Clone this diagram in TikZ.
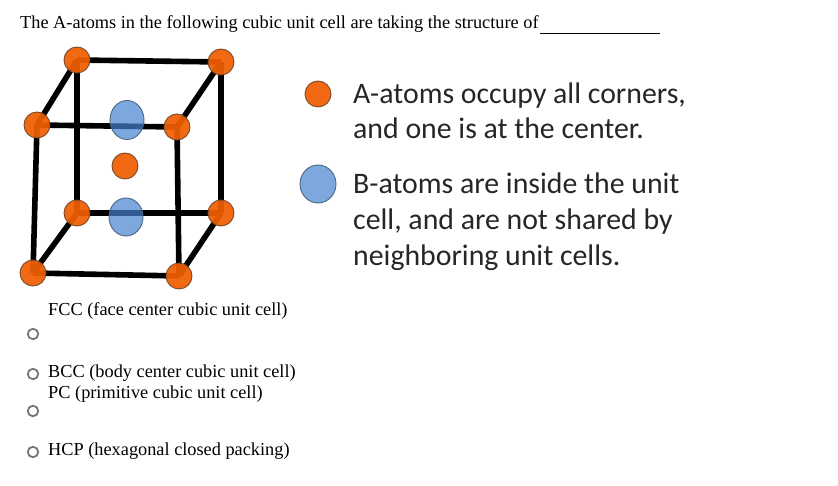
\documentclass[tikz,border=0pt]{standalone}
\usepackage{fontspec}
\usepackage{xcolor}
\setmainfont{Liberation Serif}
\newfontfamily\legendfont{Carlito}
\usetikzlibrary{backgrounds,shapes.geometric}
\definecolor{atom_orange}{HTML}{F05E00}
\definecolor{atom_orange_dk}{HTML}{7A4A2A}
\definecolor{atom_blue}{HTML}{4583D0}
\definecolor{atom_blue_dk}{HTML}{4A6684}
\definecolor{radio_gray}{HTML}{767676}
\tikzset{
    atomA/.style={circle,draw=atom_orange_dk,line width=0.9,fill=atom_orange,fill opacity=0.93,inner sep=0,minimum size=26},
    atomB/.style={ellipse,draw=atom_blue_dk,line width=0.9,fill=atom_blue,fill opacity=0.7,inner sep=0,minimum width=#1},
    edge/.style={line width=5.6,black},
    radiobtn/.style={circle,draw=radio_gray,line width=1.8,inner sep=0,minimum size=10.5},
    choice/.style={anchor=base west,inner sep=0,font=\fontsize{18.3}{22}\selectfont},
    legend/.style={anchor=base west,inner sep=0,text=black!85,font=\legendfont\fontsize{29.8}{36}\selectfont}
}
\begin{document}
\begin{tikzpicture}[x=1pt,y=-1pt]
    \useasboundingbox (0,0) rectangle (838,486);

    \node[choice] (question) at (20,28.5) {The A-atoms in the following cubic unit cell are taking the structure of};
    \coordinate (blankl) at (540,34);
    \coordinate (blankr) at (660,34);
    \draw[line width=1] (blankl) -- (blankr);

    \node[atomB=34,minimum height=39] (bluetop) at (127,120) {};
    \node[atomB=34,minimum height=38] (bluebot) at (126,217) {};
    \node[atomA] (center) at (125,166) {};

    \node[atomA] (tbl) at (77,60) {};
    \node[atomA] (tbr) at (221,62) {};
    \node[atomA] (tfl) at (37,125) {};
    \node[atomA] (tfr) at (177,127) {};
    \node[atomA] (bbl) at (77,213) {};
    \node[atomA] (bbr) at (221,213) {};
    \node[atomA] (bfl) at (33,273) {};
    \node[atomA] (bfr) at (179,276) {};

    \begin{scope}[on background layer]
        \draw[edge] (tbl.center) -- (tbr.center);
        \draw[edge] (tfl.center) -- (tfr.center);
        \draw[edge] (tbl.center) -- (tfl.center);
        \draw[edge] (tbr.center) -- (tfr.center);
        \draw[edge] (bbl.center) -- (bbr.center);
        \draw[edge] (bfl.center) -- (bfr.center);
        \draw[edge] (bbl.center) -- (bfl.center);
        \draw[edge] (bbr.center) -- (bfr.center);
        \draw[edge] (tbl.center) -- (bbl.center);
        \draw[edge] (tbr.center) -- (bbr.center);
        \draw[edge] (tfl.center) -- (bfl.center);
        \draw[edge] (tfr.center) -- (bfr.center);
    \end{scope}

    \node[atomA] (keyA) at (318,94) {};
    \node[atomB=36,minimum height=38] (keyB) at (318,184) {};

    \node[legend] (textA1) at (353,103.5) {A-atoms occupy all corners,};
    \node[legend] (textA2) at (353,138.5) {and one is at the center.};
    \node[legend] (textB1) at (353,194) {B-atoms are inside the unit};
    \node[legend] (textB2) at (353,230) {cell, and are not shared by};
    \node[legend] (textB3) at (353,266) {neighboring unit cells.};

    \node[choice] (fcc) at (48,316) {FCC (face center cubic unit cell)};
    \node[radiobtn] (radio1) at (33,334) {};
    \node[radiobtn] (radio2) at (33,374) {};
    \node[choice] (bcc) at (48,377) {BCC (body center cubic unit cell)};
    \node[choice] (pc) at (48,398) {PC (primitive cubic unit cell)};
    \node[radiobtn] (radio3) at (33,411) {};
    \node[radiobtn] (radio4) at (33,452) {};
    \node[choice] (hcp) at (48,455) {HCP (hexagonal closed packing)};
\end{tikzpicture}
\end{document}
